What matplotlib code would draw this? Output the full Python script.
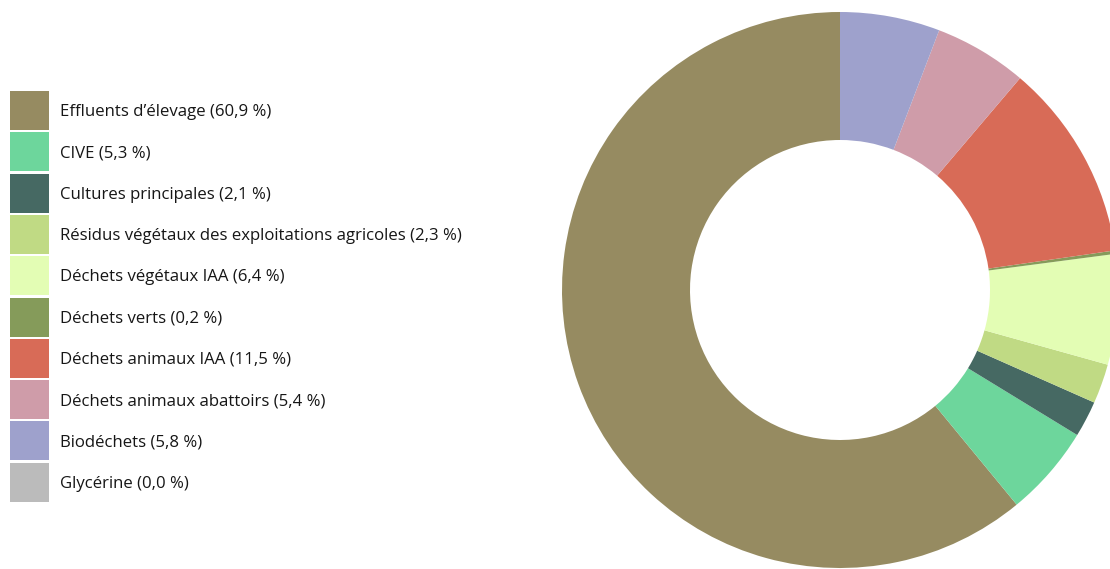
import matplotlib
matplotlib.use("Agg")
import matplotlib.pyplot as plt
from matplotlib.patches import Rectangle

plt.rcParams['font.family'] = ['Open Sans', 'DejaVu Sans']

categories = [
    "Effluents d\u2019élevage",
    "CIVE",
    "Cultures principales",
    "Résidus végétaux des exploitations agricoles",
    "Déchets végétaux IAA",
    "Déchets verts",
    "Déchets animaux IAA",
    "Déchets animaux abattoirs",
    "Biodéchets",
    "Glycérine",
]
shares = [60.9, 5.3, 2.1, 2.3, 6.4, 0.2, 11.5, 5.4, 5.8, 0.0]
colors = [
    "#968b61", "#6dd69c", "#466963", "#c0da84", "#e3fdb4",
    "#859b5a", "#d86b57", "#cf9ca9", "#9ea1cc", "#bbbbbb",
]

W, H = 1110, 569
fig = plt.figure(figsize=(W / 100, H / 100), dpi=100)

# Donut chart
cx, cy, r_out, r_in = 840, 290, 278, 150
ax = fig.add_axes([(cx - r_out) / W, (H - cy - r_out) / H, 2 * r_out / W, 2 * r_out / H])
ax.pie(shares, colors=colors, startangle=90, counterclock=True,
       radius=1.0, wedgeprops=dict(width=(r_out - r_in) / r_out, linewidth=0))
ax.set_xlim(-1, 1)
ax.set_ylim(-1, 1)
ax.set_aspect('equal')
ax.axis('off')

# Legend
lax = fig.add_axes([0, 0, 1, 1])
lax.set_xlim(0, W)
lax.set_ylim(H, 0)
lax.axis('off')
top0, pitch, sw, sh = 91, 41.3, 39, 39
for i, (name, val, col) in enumerate(zip(categories, shares, colors)):
    y = top0 + i * pitch
    lax.add_patch(Rectangle((10, y), sw, sh, facecolor=col, edgecolor='none'))
    label = f"{name} ({val:.1f} %)".replace('.', ',')
    lax.text(60, y + sh / 2 + 1.5, label, fontsize=12.1, color='#161616',
             va='center', ha='left')

fig.savefig("out.png", dpi=100)
